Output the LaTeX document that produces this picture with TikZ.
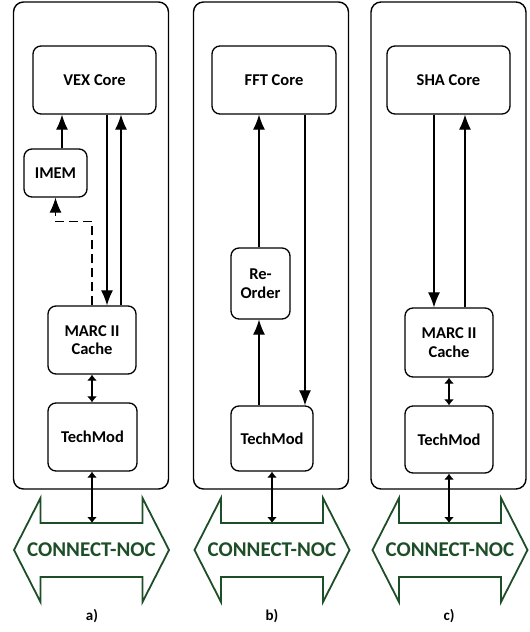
\documentclass[tikz,border=0pt]{standalone}
\usepackage{fontspec}
\setmainfont{Carlito}
\usetikzlibrary{arrows.meta,calc}
\definecolor{nocgreen}{RGB}{30,78,40}
\tikzset{
  panel/.style={draw, line width=1.4pt, rounded corners=10pt, minimum width=155pt, minimum height=487pt, inner sep=0pt},
  blk/.style={draw, line width=1.3pt, rounded corners=8pt, inner sep=0pt, align=center,
    font=\bfseries\fontsize{16.5}{18.5}\selectfont},
  arr/.style={line width=1.1pt, -{Latex[length=15pt,width=12pt]}},
  dsh/.style={arr, dash pattern=on 9pt off 5pt},
  dbl/.style={line width=1.1pt, {Latex[length=6pt,width=10pt]}-{Latex[length=6pt,width=10pt]}},
  noclbl/.style={text=nocgreen, inner sep=0pt, font=\bfseries\fontsize{21}{22}\selectfont},
  sublbl/.style={inner sep=0pt, font=\bfseries\fontsize{15}{16}\selectfont},
}
% double-headed NoC arrow outline around a centre point
\newcommand{\nocoutline}[1]{%
  \draw[nocgreen, line width=1.8pt, line join=miter]
    ($(#1)+(-77.5,0)$) -- ($(#1)+(-51,-52)$) -- ($(#1)+(-51,-27)$) -- ($(#1)+(51,-27)$)
    -- ($(#1)+(51,-52)$) -- ($(#1)+(77.5,0)$) -- ($(#1)+(51,52)$) -- ($(#1)+(51,27)$)
    -- ($(#1)+(-51,27)$) -- ($(#1)+(-51,52)$) -- cycle;}
\begin{document}
\begin{tikzpicture}[x=1pt, y=-1pt]
\useasboundingbox (0,0) rectangle (530,632);

% ---------------- a) VEX processor tile ----------------
\node[panel] (pa) at (91,245.5) {};
\node[blk, minimum width=123pt, minimum height=68pt] (vex) at (94.5,80) {VEX Core};
\node[blk, minimum width=63pt, minimum height=48pt] (imem) at (55.5,173) {IMEM};
\node[blk, minimum width=88pt, minimum height=68pt] (marcA) at (92,340) {MARC II\\Cache};
\node[blk, minimum width=89pt, minimum height=68pt] (techA) at (92.5,437) {TechMod};
\coordinate (ncA) at (91.5,550);
\node[noclbl] (nocA) at (ncA) {CONNECT-NOC};
\coordinate (nocAtop) at ($(ncA)+(0,-27)$);
\node[sublbl] (capA) at (92,616) {a)};

\coordinate (xa0) at (62,0);
\coordinate (xa1) at (107,0);
\coordinate (xa2) at (121,0);
\draw[arr] (imem.north -| xa0) -- (vex.south -| xa0);
\draw[dsh] (marcA.north) -- ([yshift=-24pt]imem.south -| marcA.north) -| (imem.south);
\draw[arr] (vex.south -| xa1) -- (marcA.north -| xa1);
\draw[arr] (marcA.north -| xa2) -- (vex.south -| xa2);
\draw[dbl] (marcA.south) -- (marcA.south |- techA.north);
\draw[dbl] (techA.south -| marcA.south) -- (nocAtop -| marcA.south);
\nocoutline{ncA}

% ---------------- b) FFT tile ----------------
\node[panel] (pb) at (271,245.5) {};
\node[blk, minimum width=124pt, minimum height=68pt] (fft) at (274,80) {FFT Core};
\node[blk, minimum width=59pt, minimum height=71pt] (reord) at (260.5,283.5) {Re-\\Order};
\node[blk, minimum width=82pt, minimum height=65pt] (techB) at (272,438.5) {TechMod};
\coordinate (ncB) at (272,550);
\node[noclbl] (nocB) at (ncB) {CONNECT-NOC};
\coordinate (nocBtop) at ($(ncB)+(0,-27)$);
\node[sublbl] (capB) at (272,616) {b)};

\coordinate (xb0) at (259,0);
\coordinate (xb1) at (305,0);
\draw[arr] (techB.north -| xb0) -- (reord.south -| xb0);
\draw[arr] (reord.north -| xb0) -- (fft.south -| xb0);
\draw[arr] (fft.south -| xb1) -- (techB.north -| xb1);
\draw[dbl] (techB.south) -- (nocBtop);
\nocoutline{ncB}

% ---------------- c) SHA tile ----------------
\node[panel] (pc) at (448.5,245.5) {};
\node[blk, minimum width=123pt, minimum height=68pt] (sha) at (448.5,80) {SHA Core};
\node[blk, minimum width=88pt, minimum height=69pt] (marcC) at (449,342.5) {MARC II\\Cache};
\node[blk, minimum width=88pt, minimum height=67pt] (techC) at (449,439.5) {TechMod};
\coordinate (ncC) at (450,550);
\node[noclbl] (nocC) at (ncC) {CONNECT-NOC};
\coordinate (nocCtop) at ($(ncC)+(0,-27)$);
\node[sublbl] (capC) at (449,616) {c)};

\coordinate (xc1) at (434,0);
\coordinate (xc2) at (465,0);
\draw[arr] (sha.south -| xc1) -- (marcC.north -| xc1);
\draw[arr] (marcC.north -| xc2) -- (sha.south -| xc2);
\draw[dbl] (marcC.south) -- (techC.north);
\draw[dbl] (techC.south) -- (nocCtop -| techC.south);
\nocoutline{ncC}
\end{tikzpicture}
\end{document}
